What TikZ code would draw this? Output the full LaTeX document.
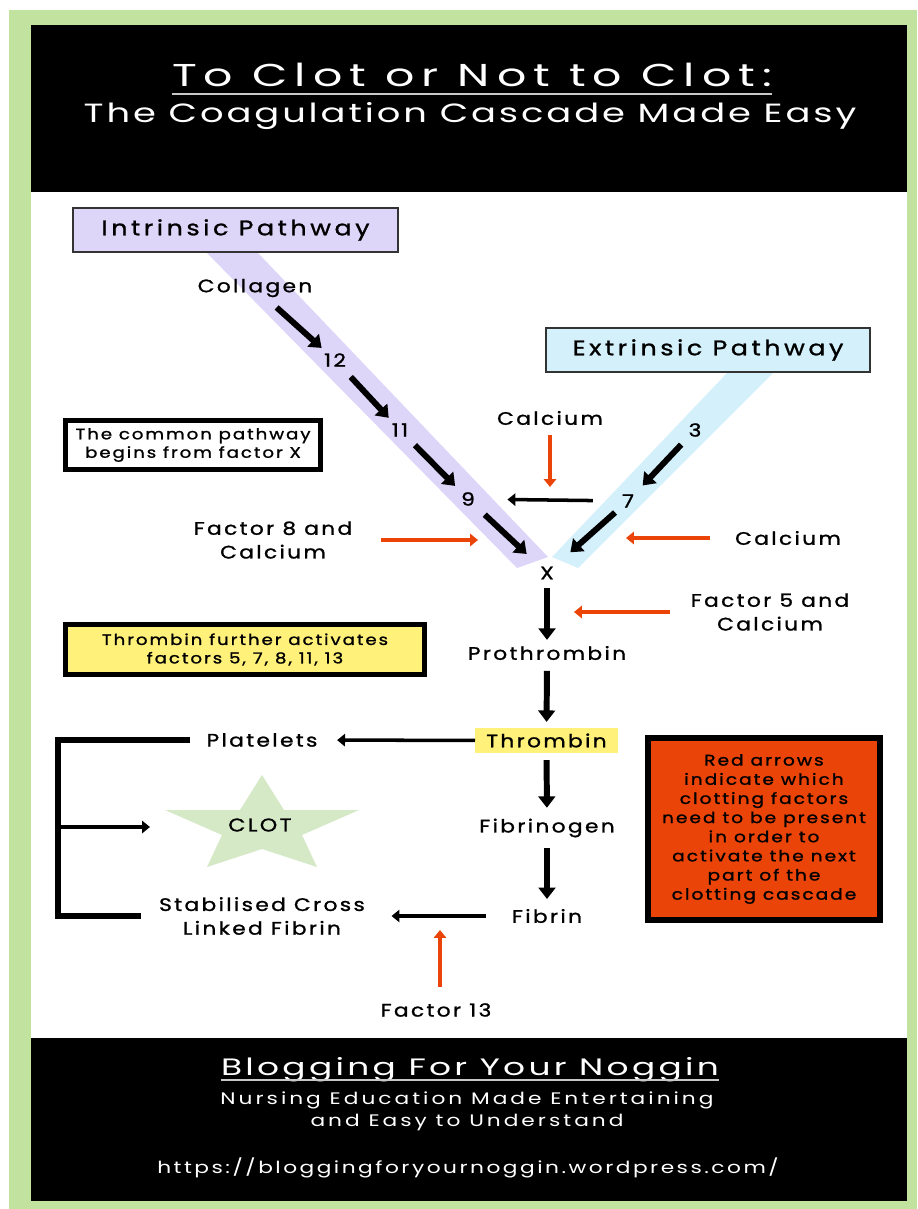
\documentclass[tikz,border=0pt]{standalone}
\usepackage{fontspec}
\setmainfont{Poppins}
\newfontfamily\headfont{Poppins}[FakeStretch=1.3, LetterSpace=18]
\newfontfamily\bodyfont{Poppins}[FakeStretch=1.2, LetterSpace=13, FakeBold=1.2]
\usetikzlibrary{arrows.meta}

\definecolor{leaf}{RGB}{194,226,160}
\definecolor{lilac}{RGB}{221,214,249}
\definecolor{sky}{RGB}{212,240,251}
\definecolor{lemon}{RGB}{255,241,122}
\definecolor{blood}{RGB}{234,68,8}
\definecolor{mint}{RGB}{214,233,198}
\definecolor{rulegray}{RGB}{200,200,200}

\begin{document}
\begin{tikzpicture}[x=0.02cm, y=-0.02cm,
    txt/.style={font=\bodyfont\fontsize{10.3}{13.5}\selectfont, align=center, inner sep=1pt},
    num/.style={txt, circle, inner sep=0pt, minimum size=12.5pt},
    head/.style={white, inner sep=0pt, align=center},
    pathbox/.style={draw=black!80, line width=1.1pt, minimum height=25pt,
        font=\bodyfont\addfontfeatures{LetterSpace=17}\fontsize{12}{14}\selectfont},
    notebox/.style={draw, line width=2.9pt, align=center,
        font=\bodyfont\fontsize{8.6}{10.5}\selectfont},
    cascade/.style={line width=3.4pt, -{Triangle[length=6.5pt, width=9.5pt]}},
    push/.style={line width=2pt, -{Triangle[length=4.5pt, width=7pt]}},
    need/.style={blood, line width=2.3pt, -{Triangle[length=4.5pt, width=7pt]}},
    bar/.style={line width=3.4pt}]

    % Frame
    \useasboundingbox (0,0) rectangle (917,1209);
    \fill[white] (0,0) rectangle (917,1209);
    \fill[leaf] (9,10) rectangle (917,1209);
    \fill[white] (31,25) rectangle (907,1201);
    \fill[black] (31,25) rectangle (907,192);
    \fill[black] (31,1038) rectangle (907,1201);

    % Title
    \node[head, font=\headfont\addfontfeatures{FakeStretch=1.45, LetterSpace=22}\fontsize{18}{20}\selectfont]
        (title) at (472,75) {To Clot or Not to Clot:};
    \draw[rulegray, line width=1.2pt] ([yshift=-4pt]title.base west) -- ([yshift=-4pt]title.base east);
    \node[head, font=\headfont\addfontfeatures{FakeStretch=1.4, LetterSpace=11}\fontsize{15}{17}\selectfont]
        (sub) at (470,116) {The Coagulation Cascade Made Easy};

    % Pathway bands
    \fill[lilac] (207,253) -- (258,253) -- (548,557) -- (517,568) -- cycle;
    \fill[sky] (727,373) -- (773,373) -- (578,568) -- (552,557) -- cycle;

    \node[pathbox, fill=lilac, minimum width=185pt] (intr) at (235.5,230) {Intrinsic Pathway};
    \node[pathbox, fill=sky, minimum width=184pt] (extr) at (708,350) {Extrinsic Pathway};

    % Intrinsic cascade
    \node[txt] (col) at (255,288) {Collagen};
    \node[num] (f12) at (335,360) {12};
    \node[num] (f11) at (400,430) {11};
    \node[num] (f9) at (468,499) {9};
    \node[num] (fx) at (547,573) {X};
    \draw[cascade, shorten <=7pt, shorten >=2.8pt] (col) -- (f12);
    \draw[cascade, shorten <=5.7pt, shorten >=3pt] (f12) -- (f11);
    \draw[cascade, shorten <=5.7pt, shorten >=4pt] (f11) -- (f9);
    \draw[cascade, shorten <=6.6pt, shorten >=9.4pt] (f9) -- (fx);

    % Extrinsic cascade
    \node[num] (f3) at (695,430) {3};
    \node[num] (f7) at (628,501) {7};
    \draw[cascade, shorten <=5pt, shorten >=5.7pt] (f3) -- (f7);
    \draw[cascade, shorten <=3.4pt, shorten >=11.3pt] (f7) -- (fx);
    \draw[push, shorten <=13.6pt, shorten >=16pt] (f7) -- (f9);

    % Co-factors (red arrows)
    \node[txt] (ca1) at (550,418) {Calcium};
    \coordinate (ca1tip) at (550,487);
    \draw[need, shorten <=4.5pt] (ca1) -- (ca1tip);
    \node[txt] (ca2) at (788,538) {Calcium};
    \coordinate (ca2tip) at (626,538);
    \draw[need, shorten <=13pt] (ca2) -- (ca2tip);
    \node[txt] (f8) at (273,540) {Factor 8 and\\Calcium};
    \coordinate (f8tip) at (478,540);
    \draw[need, shorten <=15pt] (f8) -- (f8tip);
    \node[txt] (f5) at (770,612) {Factor 5 and\\Calcium};
    \coordinate (f5tip) at (574,612);
    \draw[need, shorten <=10.8pt] (f5) -- (f5tip);

    % Common pathway
    \node[txt] (proth) at (547,653) {Prothrombin};
    \node[txt, fill=lemon, minimum width=81pt, minimum height=14pt] (thr) at (546.5,740.5) {Thrombin};
    \node[txt] (fibg) at (547,828) {Fibrinogen};
    \node[txt] (fib) at (547,916) {Fibrin};
    \draw[cascade, shorten <=2.3pt, shorten >=2.3pt] (fx) -- (proth);
    \draw[cascade, shorten <=5pt, shorten >=3.4pt] (proth) -- (thr);
    \draw[cascade, shorten <=4pt, shorten >=5pt] (thr) -- (fibg);
    \draw[cascade, shorten <=5pt, shorten >=4.5pt] (fibg) -- (fib);

    % Clot
    \node[txt] (plat) at (262,740) {Platelets};
    \node[txt] (sclf) at (262,916) {Stabilised Cross\\Linked Fibrin};
    \fill[mint] (262,775) -- (284,810) -- (359,810) -- (302,835) -- (317,867)
        -- (262,849) -- (207,867) -- (222,835) -- (165,810) -- (240,810) -- cycle;
    \node[txt, font=\bodyfont\fontsize{10.5}{12}\selectfont] (clot) at (260,825) {CLOT};
    \coordinate (brk) at (58,827);
    \coordinate (clottip) at (150,827);
    \draw[push, shorten >=10pt] (thr) -- (plat);
    \draw[push, shorten <=13.6pt, shorten >=14pt] (fib) -- (sclf);
    \draw[bar] ([xshift=-8pt]plat.west) -| (brk) |- ([xshift=-9pt]sclf.west);
    \draw[push] (brk) -- (clottip);

    % Factor 13
    \node[txt] (f13) at (436,1010) {Factor 13};
    \coordinate (f13tip) at (440,930);
    \draw[need, shorten <=8pt] (f13.north -| f13tip) -- (f13tip);

    % Notes
    \node[notebox, fill=white, minimum width=145pt, minimum height=28pt] (common) at (193,445)
        {The common pathway\\begins from factor X};
    \node[notebox, fill=lemon, minimum width=204pt, minimum height=28.5pt] (further) at (245,649.5)
        {Thrombin further activates\\factors 5, 7, 8, 11, 13};
    \node[notebox, fill=blood, line width=3.4pt, minimum width=132pt, minimum height=103.5pt,
        font=\bodyfont\fontsize{8.8}{10.9}\selectfont] (key) at (764,829)
        {Red arrows\\indicate which\\clotting factors\\need to be present\\in order to\\activate the next\\part of the\\clotting cascade};

    % Footer
    \node[head, font=\headfont\addfontfeatures{FakeStretch=1.45, LetterSpace=14}\fontsize{13.5}{15}\selectfont]
        (blog) at (470,1070) {Blogging For Your Noggin};
    \draw[rulegray, line width=1pt] ([yshift=-2.3pt]blog.base west) -- ([yshift=-2.3pt]blog.base east);
    \node[head, font=\headfont\fontsize{9.5}{12.5}\selectfont] (tag) at (467,1111)
        {Nursing Education Made Entertaining\\and Easy to Understand};
    \node[head, font=\headfont\addfontfeatures{LetterSpace=15}\fontsize{9.5}{12}\selectfont] (url) at (468,1168)
        {https://bloggingforyournoggin.wordpress.com/};
\end{tikzpicture}
\end{document}
